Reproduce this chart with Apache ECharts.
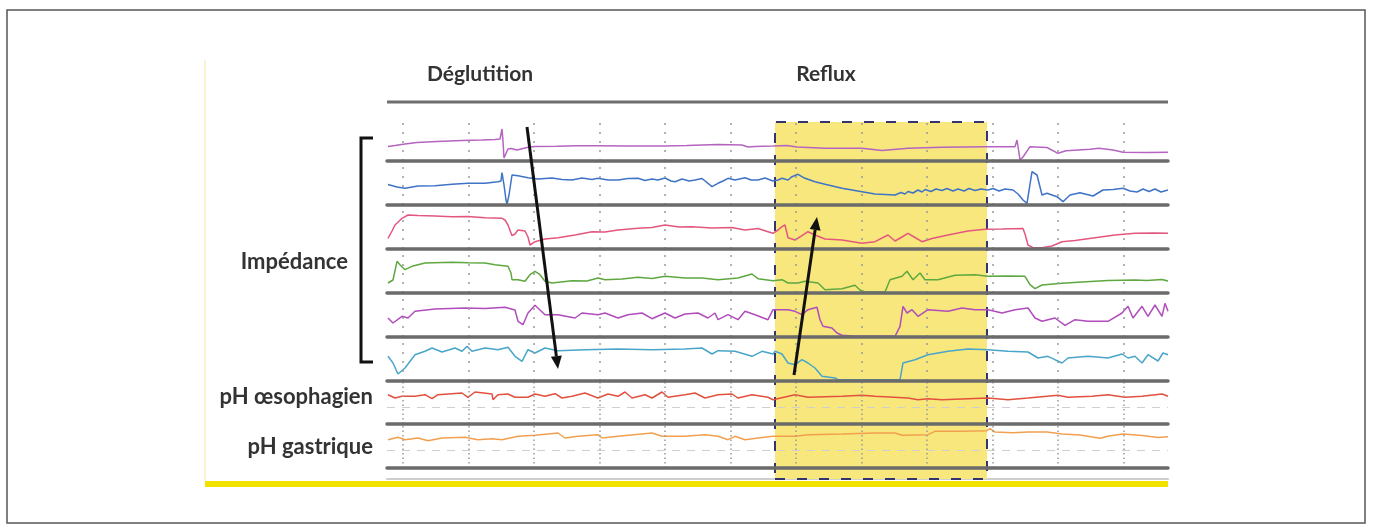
<!DOCTYPE html>
<html><head><meta charset="utf-8">
<script src="https://cdn.jsdelivr.net/npm/echarts@6/dist/echarts.min.js"></script>
<style>html,body{margin:0;padding:0;background:#fff}#c{width:1373px;height:532px}</style>
</head><body><div id="c"></div>
<script>
// ---------- DATA (x = sample index, value = channel amplitude, arbitrary units) ----------
const sampleRange = [0, 781];
const gridTicks = [16, 81.5, 147, 212.5, 278, 343.5, 409, 474.5, 540, 605.5, 671, 736.5];
const refluxWindow = [388, 600];
const phReference = [17, 17.3];
const eventLabels = ['Déglutition', 'Reflux'];
const channelLabels = ['Impédance', 'pH œsophagien', 'pH gastrique'];

const imp1 = [[1,14.5],[8,15.5],[18,17],[30,18.5],[50,19.5],[75,20.5],[95,21],[108,21.5],[113,22],[115,32],[116,20],[117,3],[119,5],[121,12],[124,12.5],[130,11],[136,12.5],[142,14],[148,14.5],[170,14.8],[190,15.3],[211,15.3],[240,15],[278,15],[300,15.5],[331,16.5],[355,16],[361,14],[368,14.5],[386,15],[400,15.5],[410,14],[438,12.7],[475,12.7],[495,10.5],[521,12.7],[555,13.7],[598,14.3],[628,14.3],[630,21],[632,8],[633,1],[636,4],[643,14.3],[660,13.5],[671,7.7],[679,10.3],[703,11.7],[712,12.7],[726,11],[736,8.7],[760,8.5],[781,8.7]];

const imp2 = [[1,20.5],[10,18],[18,16.7],[31,19],[48,19.3],[65,20.7],[81,21.7],[98,21.7],[111,23.3],[114,24],[115,32.3],[117,20],[119,5],[120,0.7],[122,10],[125,30],[131,29.3],[141,27.3],[151,26],[165,27],[175,25.5],[185,25],[195,27],[205,25.5],[211,26.7],[221,25],[231,25],[241,26.5],[251,26.7],[258,24.5],[265,26],[271,25],[278,27],[284,24],[288,23.3],[295,26],[302,24],[308,25],[315,26.5],[325,18.3],[331,21.7],[336,24],[341,26.7],[348,25],[358,27.3],[364,25],[371,25],[378,27],[386,24],[391,25],[395,26.7],[401,25],[405,28.3],[411,30.7],[418,26.7],[428,23.3],[438,20.7],[455,16.7],[475,13.3],[488,11],[508,10],[514,12.5],[518,11],[521,13.5],[526,12],[531,15],[535,13],[538,15.5],[544,13.5],[549,16],[555,14.5],[560,16.5],[566,14],[571,16],[577,14],[582,16.5],[588,14.5],[594,16],[601,15],[606,16.5],[612,14],[618,16],[626,15],[631,11],[636,5],[640,1.7],[645,33.3],[650,30],[655,10],[660,11.7],[670,8.3],[676,3.3],[683,10],[693,12.3],[706,9],[716,15],[726,15.5],[736,16.7],[743,14],[750,13],[756,16],[762,13.5],[768,16],[774,13],[781,15]];

const imp3 = [[1,10.7],[5,18],[8,24],[15,30.7],[21,34],[31,33.5],[48,33],[65,32.3],[81,32.5],[98,31.3],[115,30.7],[118,29],[121,24],[125,13.3],[128,15],[131,19],[138,18],[141,12],[143,4],[148,7.3],[158,10],[171,11.3],[188,14],[205,17.3],[218,17],[231,19],[251,20.7],[265,21.5],[278,24],[292,22],[305,22.3],[325,21],[345,21.5],[358,19],[371,20.5],[381,17.3],[386,15.7],[391,19],[395,22.3],[398,24],[401,11.3],[408,9],[415,13.3],[421,17.3],[428,14],[438,10],[455,9],[475,5.7],[488,7.3],[501,14],[508,8],[515,12],[521,15.7],[528,11.5],[535,7.3],[545,10.5],[561,14],[581,18],[598,19.7],[615,20],[636,20.5],[638,15],[641,4],[646,1.3],[655,1.3],[665,3],[675,7.3],[688,8.5],[708,11.3],[728,14],[748,15.7],[768,16],[781,15.7]];

const imp4 = [[1,10],[6,13],[10,31.7],[13,28.3],[18,23.3],[25,26.7],[38,30],[65,30.7],[81,30.3],[98,30],[108,28.3],[121,26.7],[124,20],[125,13.3],[131,13.3],[138,11.7],[143,18.3],[148,21.7],[153,18.3],[158,11.7],[165,10],[185,12.3],[200,12],[211,15],[218,13.3],[235,14],[251,15.7],[265,14.5],[278,16.7],[298,15],[315,15],[331,13.3],[351,15],[365,19],[371,14.3],[386,12.3],[395,13.3],[401,10],[411,10],[418,11.7],[431,10],[438,3.3],[455,4.3],[468,7.7],[473,3],[478,1],[498,1],[503,13.3],[515,16.7],[520,21.7],[526,13.3],[533,20],[538,13.3],[551,13.3],[568,17.7],[588,18.3],[601,16.7],[621,17],[638,16.7],[643,8.3],[648,4.3],[655,8],[675,9.7],[695,11],[721,12.5],[748,13],[760,12.5],[775,13.5],[781,12]];

const imp5 = [[1,19],[6,14],[15,20.7],[21,19],[28,25.7],[48,28],[78,29],[98,28.5],[118,29.7],[128,27],[131,15.7],[136,12.3],[141,24],[148,31.7],[153,27],[158,22.3],[171,22.3],[188,19],[195,24],[211,22.3],[218,24],[231,19],[241,22.3],[255,24],[265,18.3],[278,24],[288,19],[298,23],[311,24],[321,19],[328,24],[331,17.3],[341,22.3],[351,17.3],[358,25.7],[368,22.3],[381,17.3],[386,27.3],[401,27.3],[408,25.7],[415,22.3],[421,27.3],[430,29.7],[433,17.3],[436,10.7],[445,9],[450,4],[455,1.7],[468,0.7],[508,0.7],[513,10.7],[516,30.7],[520,24],[525,27.3],[531,20.7],[541,27.3],[561,25.7],[575,29],[588,27.3],[601,27.3],[615,24],[628,27.3],[641,29],[648,19],[655,15.7],[668,19],[678,11.7],[688,17.3],[701,15.7],[721,15.7],[735,24],[741,30.7],[746,19],[755,30.7],[761,20.7],[768,32],[775,20.7],[778,33.7],[781,25.7]];

const imp6 = [[1,24.7],[6,18],[11,7],[18,13],[28,26.3],[38,29.7],[45,33],[55,29],[68,33],[75,29.7],[80,34.7],[85,29.7],[98,33],[111,31.3],[121,33.7],[128,24.7],[135,19.7],[141,31.3],[148,28],[158,33],[171,30.3],[198,31.3],[231,32],[265,31.3],[298,32],[315,33],[325,27],[331,30.3],[348,29.7],[365,24.7],[375,29.7],[386,27],[388,29.7],[395,27],[401,18],[408,16.3],[415,21.3],[421,18],[428,13],[435,4.7],[448,3],[451,1.3],[513,1.3],[516,18],[528,21.3],[541,26.3],[561,29.7],[581,32],[601,31.3],[621,29.7],[641,29],[651,23],[661,24.7],[668,21.3],[675,18],[681,23],[701,24.7],[721,23],[735,27],[741,23],[748,24.7],[755,18],[761,26.3],[771,20],[776,28],[781,26.3]];

const phEso = [[1,29.3],[8,26],[15,27.7],[28,27.7],[38,29.3],[45,25.3],[51,29.3],[75,31],[81,26.7],[88,32],[105,30],[106,24.3],[111,29.3],[121,30],[128,26.7],[141,26.7],[148,30],[158,27.7],[168,30.3],[175,26],[185,27.7],[198,31],[211,26],[221,30],[231,27.7],[238,32],[245,26],[258,29.3],[265,26],[275,32],[281,26.7],[298,29.3],[308,31],[318,26],[331,29.3],[345,30],[351,26],[365,29.3],[381,26.7],[386,24.3],[388,25.3],[408,29.3],[421,26.7],[455,27.7],[475,28.7],[488,27.7],[521,26],[531,24.3],[541,25.3],[555,24.3],[601,26],[621,24.3],[641,26],[671,28.7],[681,26.7],[705,27.7],[721,29.3],[738,26.7],[755,27.7],[775,30],[781,27.7]];

const phGas = [[1,28.3],[11,30.7],[18,28.3],[31,30],[41,27.3],[55,30],[78,30.7],[91,28.3],[105,29.3],[115,28.3],[131,31.7],[148,32.7],[171,35],[178,30],[191,31.7],[211,33.3],[215,30],[231,31.7],[265,35],[275,31.7],[298,31.7],[318,33.3],[331,31.7],[341,28.3],[348,31.7],[358,28.3],[371,30],[386,31.7],[388,33.3],[408,31.7],[421,33.3],[455,34],[488,35],[508,35],[515,32.7],[541,33.3],[548,36.7],[575,36.7],[600,37.3],[603,39.3],[608,36],[626,35.3],[641,36],[660,36],[675,34],[693,33],[713,29.7],[722,32],[736,34],[755,32.5],[771,30.5],[781,31.3]];

const channels = [imp1, imp2, imp3, imp4, imp5, imp6, phEso, phGas];

// ---------- STYLE / LAYOUT ----------
const colors = ['#b565c0','#3f73c6','#e3577f','#5ea83f','#b04cbc','#49a5c9','#e2513f','#f2a050'];
const rowBottoms = [161,205,249,293,337,381,424,468];
const rowHeight = 44;
const plotLeft = 387, plotWidth = 781;

const grids = [], xAxes = [], yAxes = [], series = [];
channels.forEach((d, i) => {
  grids.push({left: plotLeft, width: plotWidth, top: rowBottoms[i] - rowHeight, height: rowHeight});
  xAxes.push({gridIndex: i, type: 'value', min: sampleRange[0], max: sampleRange[1], z: 5,
    axisLine: {show: true, onZero: false, lineStyle: {color: '#6b6b6b', width: 3.5}},
    axisTick: {show: false}, axisLabel: {show: false}, splitLine: {show: false}});
  yAxes.push({gridIndex: i, type: 'value', min: 0, max: rowHeight, show: false});
  const isPh = i >= 6;
  const ml = gridTicks.map(t => ({xAxis: t}));
  if (isPh) ml.push({yAxis: phReference[i - 6], lineStyle: {type: [8, 7], color: '#cfcfcf', width: 1.2}});
  series.push({
    type: 'line', xAxisIndex: i, yAxisIndex: i, data: d, showSymbol: false, z: 3,
    lineStyle: {color: colors[i], width: 1.5}, animation: false,
    markLine: {silent: true, symbol: 'none', animation: false, label: {show: false},
      lineStyle: {type: isPh ? [1.5, 3] : [2, 7], color: '#9a9a9a', width: 1.5},
      data: ml}
  });
});
// overlay grid for the reflux window
const bi = channels.length;
grids.push({left: plotLeft, width: plotWidth, top: 122, height: 357});
xAxes.push({gridIndex: bi, type: 'value', min: sampleRange[0], max: sampleRange[1], z: 0,
  axisLine: {show: true, lineStyle: {color: '#cfcfcf', width: 2}}, axisTick: {show: false},
  axisLabel: {show: false}, splitLine: {show: false}});
yAxes.push({gridIndex: bi, type: 'value', min: 0, max: 1, show: false});
series.push({type: 'line', xAxisIndex: bi, yAxisIndex: bi, data: [], z: 1, animation: false,
  markArea: {silent: true, animation: false,
    itemStyle: {color: '#f7e77c', opacity: 1, borderColor: '#34346e', borderWidth: 2, borderType: [10, 12]},
    data: [[{xAxis: refluxWindow[0]}, {xAxis: refluxWindow[1]}]]}});

function arrow(x1, y1, x2, y2) {
  const dx = x2 - x1, dy = y2 - y1, L = Math.hypot(dx, dy), ux = dx / L, uy = dy / L;
  const hl = 13, hw = 5.5, bx = x2 - ux * hl, by = y2 - uy * hl, px = -uy * hw, py = ux * hw;
  return [
    {type: 'line', shape: {x1, y1, x2: bx, y2: by}, style: {stroke: '#111', lineWidth: 3}, z: 20},
    {type: 'polygon', shape: {points: [[x2, y2], [bx + px, by + py], [bx - px, by - py]]}, style: {fill: '#111'}, z: 20}
  ];
}
const fontTop = 'bold 21px Lato';
const fontSide = 'bold 22px Lato';
const graphic = [
  {type: 'rect', shape: {x: 7, y: 10, width: 1358, height: 513}, style: {fill: 'none', stroke: '#555', lineWidth: 1.5}, z: 0},
  {type: 'line', shape: {x1: 205, y1: 60, x2: 205, y2: 481}, style: {stroke: '#fbf2cf', lineWidth: 2}},
  {type: 'rect', shape: {x: 205, y: 481, width: 963, height: 6}, style: {fill: '#f3e200'}, z: 10},
  {type: 'line', shape: {x1: 387, y1: 102, x2: 1168, y2: 102}, style: {stroke: '#6e6e6e', lineWidth: 3}},
  {type: 'polyline', shape: {points: [[373, 138], [361, 138], [361, 362], [373, 362]]}, style: {stroke: '#111', lineWidth: 3, fill: 'none'}},
  ...arrow(527, 127, 558, 369),
  ...arrow(794, 375, 817, 217),
  {type: 'text', x: 480, y: 74, style: {text: eventLabels[0], font: fontTop, fill: '#333', align: 'center', verticalAlign: 'middle'}},
  {type: 'text', x: 826, y: 74, style: {text: eventLabels[1], font: fontTop, fill: '#333', align: 'center', verticalAlign: 'middle'}},
  {type: 'text', x: 348, y: 262, style: {text: channelLabels[0], font: fontSide, fill: '#333', align: 'right', verticalAlign: 'middle'}},
  {type: 'text', x: 373, y: 397, style: {text: channelLabels[1], font: fontSide, fill: '#333', align: 'right', verticalAlign: 'middle'}},
  {type: 'text', x: 373, y: 447, style: {text: channelLabels[2], font: fontSide, fill: '#333', align: 'right', verticalAlign: 'middle'}}
];

const chart = echarts.init(document.getElementById('c'), null, {renderer: 'canvas'});
chart.setOption({backgroundColor: '#fff', animation: false, grid: grids, xAxis: xAxes, yAxis: yAxes, series, graphic});
</script></body></html>
